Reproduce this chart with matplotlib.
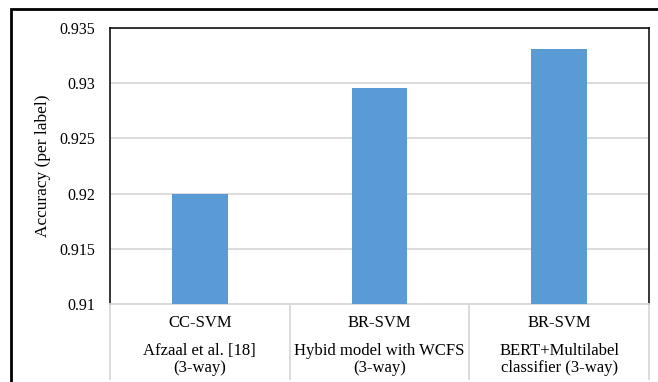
import matplotlib.pyplot as plt
from matplotlib.lines import Line2D
from matplotlib.patches import Rectangle

plt.rcParams['font.family'] = ['Liberation Serif', 'DejaVu Serif']

methods = ['CC-SVM', 'BR-SVM', 'BR-SVM']
models = ['Afzaal et al. [18]\n(3-way)',
          'Hybid model with WCFS\n(3-way)',
          'BERT+Multilabel\nclassifier (3-way)']
accuracy = [0.920, 0.9296, 0.9331]
y_ticks = [0.91, 0.915, 0.92, 0.925, 0.93, 0.935]
y_tick_labels = ['0.91', '0.915', '0.92', '0.925', '0.93', '0.935']

W, H = 658, 382
fig = plt.figure(figsize=(W / 100, H / 100), dpi=100)

# outer frame, runs off the right and bottom edges
fig.patches.append(Rectangle((10.5 / W, -0.1), 1.2, (H - 9) / H + 0.1,
                             transform=fig.transFigure, fill=False,
                             edgecolor='black', linewidth=2.0))

ax = fig.add_axes([110 / W, (H - 304) / H, (649 - 110) / W, (304 - 28) / H])

x = range(len(accuracy))
ax.bar(x, accuracy, width=0.31, color='#5b9bd5', zorder=3)

ax.set_xlim(-0.5, 2.5)
ax.set_ylim(0.91, 0.935)
ax.set_yticks(y_ticks)
ax.set_yticklabels(y_tick_labels, fontsize=11.5)
ax.tick_params(axis='y', length=0, pad=10.5)
ax.set_xticks([])
ax.grid(axis='y', color='#d9d9d9', linewidth=1.3, zorder=0)

for side in ['left', 'top', 'right']:
    ax.spines[side].set_color('black')
    ax.spines[side].set_linewidth(1.1)
ax.spines['bottom'].set_color('#d9d9d9')
ax.spines['bottom'].set_linewidth(1.3)

ax.set_ylabel('Accuracy (per label)', fontsize=12.5)
ax.yaxis.set_label_coords((51 - 110) / (649 - 110), 0.5)

# category table under the axis
trans = ax.get_xaxis_transform()
table_bottom = -(379 - 304) / (304 - 28)
for xb in [-0.5, 0.5, 1.5, 2.5]:
    ax.add_line(Line2D([xb, xb], [0, table_bottom], transform=trans,
                       color='#d9d9d9', linewidth=1.3, clip_on=False))

for i in x:
    ax.text(i, -(323 - 304) / 276, methods[i], transform=trans,
            ha='center', va='center', fontsize=12)
    ax.text(i, -(359.5 - 304) / 276, models[i], transform=trans,
            ha='center', va='center', fontsize=12, linespacing=1.1)

fig.savefig('out.png', dpi=100)
